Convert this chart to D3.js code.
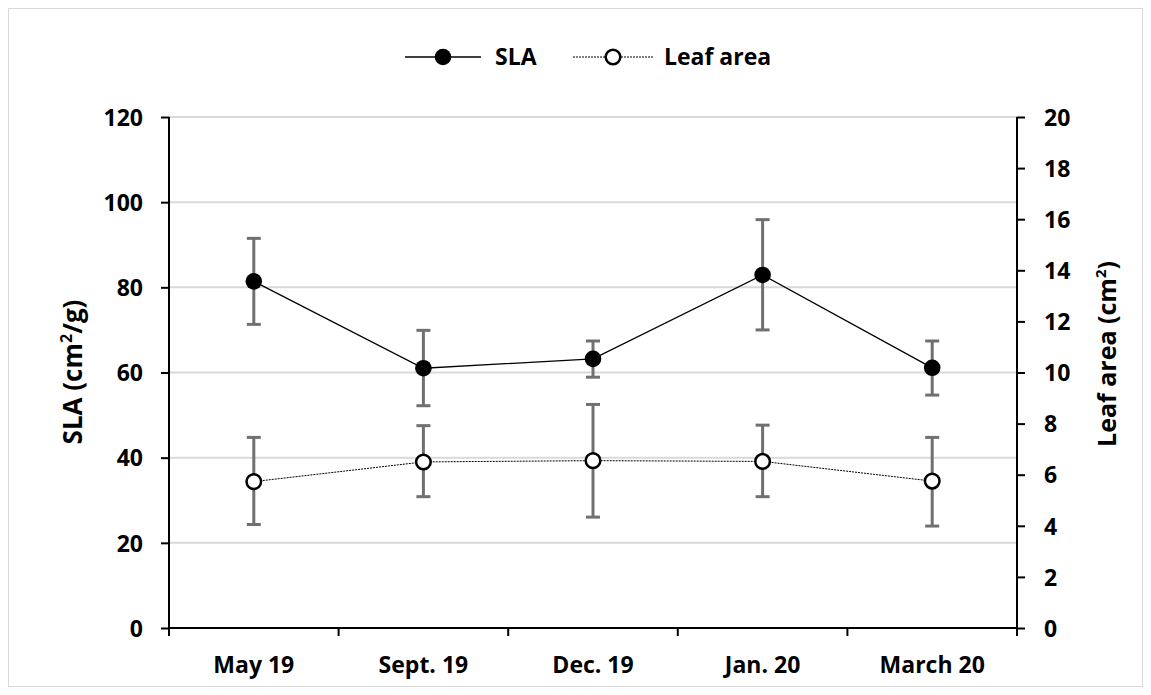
<!DOCTYPE html>
<html>
<head>
<meta charset="utf-8">
<script src="https://cdn.jsdelivr.net/npm/d3@7"></script>
<style>
  html, body { margin: 0; padding: 0; background: #fff; }
  svg text { font-family: "Open Sans", "DejaVu Sans", sans-serif; font-weight: 700; fill: #000; }
</style>
</head>
<body>
<svg id="chart" width="1151" height="695"></svg>
<script>
// Sampling dates
const categories = ["May 19", "Sept. 19", "Dec. 19", "Jan. 20", "March 20"];

// Specific leaf area (cm²/g): mean, lower and upper error bounds
const slaMean = [81.4, 61.0, 63.2, 82.9, 61.1];
const slaLow  = [71.3, 52.2, 58.9, 70.0, 54.7];
const slaHigh = [91.5, 69.9, 67.4, 95.9, 67.4];

// Leaf area (cm²): mean, lower and upper error bounds
const leafMean = [5.73, 6.50, 6.55, 6.52, 5.75];
const leafLow  = [4.05, 5.14, 4.34, 5.14, 3.99];
const leafHigh = [7.46, 7.92, 8.75, 7.94, 7.46];

const slaTicks  = [0, 20, 40, 60, 80, 100, 120];
const leafTicks = [0, 2, 4, 6, 8, 10, 12, 14, 16, 18, 20];

const svg = d3.select("#chart");
const W = 1151, H = 695;
const plotL = 169, plotR = 1017, plotT = 117, plotB = 628;
const tickFont = 23;

// Outer frame
svg.append("rect")
  .attr("x", 8.5).attr("y", 8.5)
  .attr("width", W - 17).attr("height", H - 17)
  .attr("fill", "#fff").attr("stroke", "#d9d9d9").attr("stroke-width", 1);

const x = d3.scaleBand().domain(categories).range([plotL, plotR]).padding(0);
const ySla = d3.scaleLinear().domain([0, 120]).range([plotB, plotT]);
const yLeaf = d3.scaleLinear().domain([0, 20]).range([plotB, plotT]);
const cx = d => x(d) + x.bandwidth() / 2;

// Horizontal gridlines
svg.append("g").selectAll("line")
  .data(slaTicks.filter(t => t > 0))
  .join("line")
  .attr("x1", plotL).attr("x2", plotR)
  .attr("y1", d => ySla(d)).attr("y2", d => ySla(d))
  .attr("stroke", "#d9d9d9").attr("stroke-width", 2);

// Left axis
const gl = svg.append("g").attr("transform", `translate(${plotL},0)`)
  .call(d3.axisLeft(ySla).tickValues(slaTicks).tickSize(8).tickPadding(18));
gl.select(".domain").attr("d", `M0,${plotT}V${plotB + 8}`);

// Right axis
const gr = svg.append("g").attr("transform", `translate(${plotR},0)`)
  .call(d3.axisRight(yLeaf).tickValues(leafTicks).tickSize(8).tickPadding(19));
gr.select(".domain").attr("d", `M0,${plotT}V${plotB + 8}`);

// Bottom axis: ticks at category boundaries
const gb = svg.append("g").attr("transform", `translate(0,${plotB})`);
gb.append("line").attr("x1", plotL).attr("x2", plotR).attr("y1", 0).attr("y2", 0)
  .attr("stroke", "#000").attr("stroke-width", 2);
const bounds = categories.map(c => x(c)).concat([plotR]);
gb.selectAll("line.tk").data(bounds).join("line").attr("class", "tk")
  .attr("x1", d => d).attr("x2", d => d).attr("y1", 0).attr("y2", 8)
  .attr("stroke", "#000").attr("stroke-width", 2);
gb.selectAll("text").data(categories).join("text")
  .attr("x", d => cx(d)).attr("y", 45)
  .attr("text-anchor", "middle").attr("font-size", tickFont)
  .text(d => d);

[gl, gr].forEach(g => {
  g.selectAll(".domain").attr("stroke", "#000").attr("stroke-width", 2);
  g.selectAll(".tick line").attr("stroke", "#000").attr("stroke-width", 2);
  g.selectAll(".tick text").attr("font-size", tickFont).attr("dy", "0.36em");
});

// Axis titles
const titleL = svg.append("text")
  .attr("transform", `translate(82,372) rotate(-90)`)
  .attr("text-anchor", "middle").attr("font-size", 26);
titleL.append("tspan").text("SLA (cm");
titleL.append("tspan").attr("font-size", 16).attr("dy", -10).text("2");
titleL.append("tspan").attr("dy", 10).text("/g)");

const titleR = svg.append("text")
  .attr("transform", `translate(1116,354) rotate(-90)`)
  .attr("text-anchor", "middle").attr("font-size", 25);
titleR.append("tspan").text("Leaf area (cm");
titleR.append("tspan").attr("font-size", 15).attr("dy", -10).text("2");
titleR.append("tspan").attr("dy", 10).text(")");

// Error bars
function errorBars(lo, hi, scale) {
  const g = svg.append("g").attr("stroke", "#707070").attr("stroke-width", 3);
  categories.forEach((c, i) => {
    const px = cx(c);
    g.append("line").attr("x1", px).attr("x2", px)
      .attr("y1", scale(lo[i])).attr("y2", scale(hi[i]));
    [lo[i], hi[i]].forEach(v => {
      g.append("line").attr("x1", px - 7).attr("x2", px + 7)
        .attr("y1", scale(v)).attr("y2", scale(v));
    });
  });
}
errorBars(slaLow, slaHigh, ySla);
errorBars(leafLow, leafHigh, yLeaf);

// Series lines
const slaLine = d3.line().x((d, i) => cx(categories[i])).y(d => ySla(d));
const leafLine = d3.line().x((d, i) => cx(categories[i])).y(d => yLeaf(d));
svg.append("path").attr("d", slaLine(slaMean))
  .attr("fill", "none").attr("stroke", "#000").attr("stroke-width", 1.3);
svg.append("path").attr("d", leafLine(leafMean))
  .attr("fill", "none").attr("stroke", "#000").attr("stroke-width", 1)
  .attr("stroke-dasharray", "2,1");

// Markers
svg.append("g").selectAll("circle").data(slaMean).join("circle")
  .attr("cx", (d, i) => cx(categories[i])).attr("cy", d => ySla(d))
  .attr("r", 8.3).attr("fill", "#000");
svg.append("g").selectAll("circle").data(leafMean).join("circle")
  .attr("cx", (d, i) => cx(categories[i])).attr("cy", d => yLeaf(d))
  .attr("r", 7.3).attr("fill", "#fff").attr("stroke", "#000").attr("stroke-width", 2.5);

// Legend
const lg = svg.append("g");
lg.append("line").attr("x1", 405).attr("x2", 481).attr("y1", 57).attr("y2", 57)
  .attr("stroke", "#000").attr("stroke-width", 1.3);
lg.append("circle").attr("cx", 443).attr("cy", 57).attr("r", 8.3).attr("fill", "#000");
lg.append("text").attr("x", 495).attr("y", 57).attr("dy", "0.36em")
  .attr("font-size", 23).text("SLA");
lg.append("line").attr("x1", 573).attr("x2", 653).attr("y1", 57).attr("y2", 57)
  .attr("stroke", "#000").attr("stroke-width", 1).attr("stroke-dasharray", "2,1");
lg.append("circle").attr("cx", 613).attr("cy", 57).attr("r", 7.3)
  .attr("fill", "#fff").attr("stroke", "#000").attr("stroke-width", 2.5);
lg.append("text").attr("x", 664).attr("y", 57).attr("dy", "0.36em")
  .attr("font-size", 23).text("Leaf area");
</script>
</body>
</html>
